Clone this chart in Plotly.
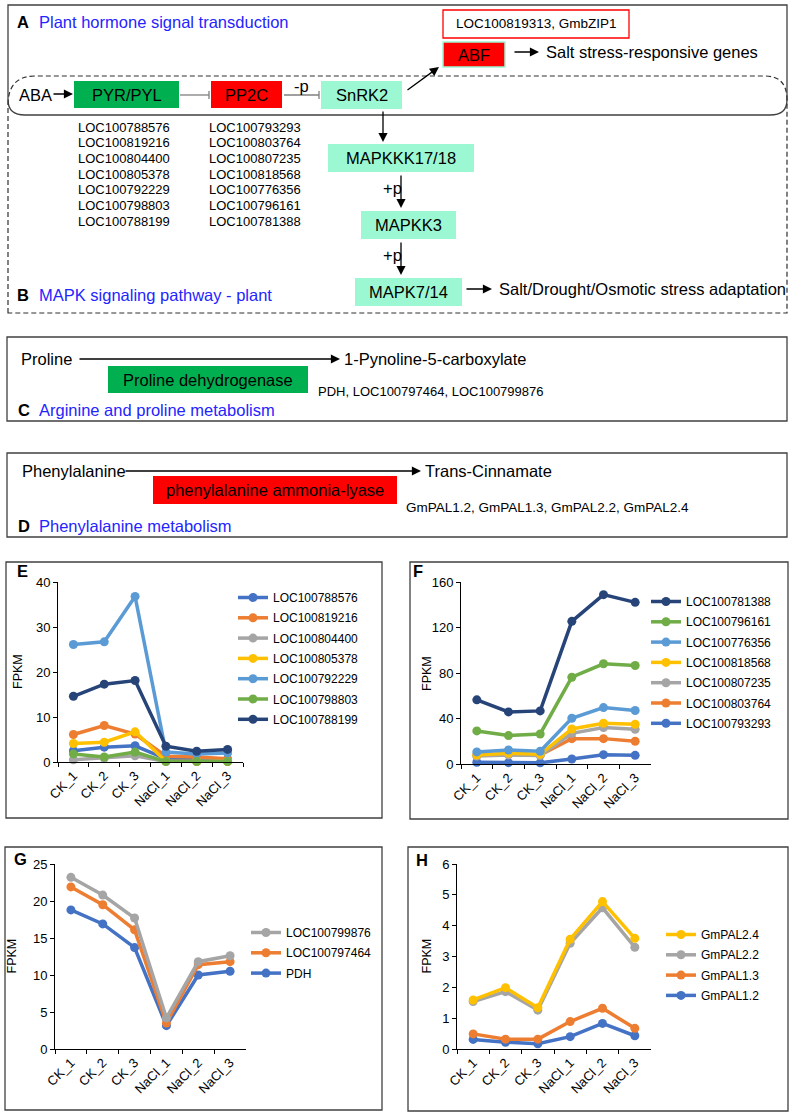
import plotly.graph_objects as go

W, H = 791, 1116
FONT = "Liberation Sans, Arial, sans-serif"
TITLE_BLUE = "#2424FF"
MINT = "#9CF8D2"
GREEN = "#00B050"
RED = "#FF0000"

# ---------------- data ----------------
categories = ["CK_1", "CK_2", "CK_3", "NaCl_1", "NaCl_2", "NaCl_3"]

pyr_genes = ["LOC100788576", "LOC100819216", "LOC100804400", "LOC100805378",
             "LOC100792229", "LOC100798803", "LOC100788199"]
pp2c_genes = ["LOC100793293", "LOC100803764", "LOC100807235", "LOC100818568",
              "LOC100776356", "LOC100796161", "LOC100781388"]

# Panel E (PYR/PYL)
e_names = ["LOC100788576", "LOC100819216", "LOC100804400", "LOC100805378",
           "LOC100792229", "LOC100798803", "LOC100788199"]
e_LOC100788576 = [2.5, 3.3, 3.6, 0.7, 0.6, 0.5]
e_LOC100819216 = [6.1, 8.1, 6.2, 1.3, 1.1, 0.7]
e_LOC100804400 = [0.5, 0.9, 1.4, 0.1, 0.1, 0.1]
e_LOC100805378 = [4.1, 4.4, 6.7, 0.15, 0.1, 0.1]
e_LOC100792229 = [26.1, 26.7, 36.8, 2.2, 1.8, 2.0]
e_LOC100798803 = [1.8, 1.1, 2.2, 0.1, 0.1, 0.1]
e_LOC100788199 = [14.6, 17.3, 18.1, 3.5, 2.4, 2.8]
e_values = [e_LOC100788576, e_LOC100819216, e_LOC100804400, e_LOC100805378,
            e_LOC100792229, e_LOC100798803, e_LOC100788199]
e_colors = ["#4472C4", "#ED7D31", "#A5A5A5", "#FFC000", "#5B9BD5", "#70AD47", "#264478"]

# Panel F (PP2C)
f_names = ["LOC100793293", "LOC100803764", "LOC100807235", "LOC100818568",
           "LOC100776356", "LOC100796161", "LOC100781388"]
f_LOC100793293 = [1.5, 1.2, 1.0, 4.4, 8.2, 7.6]
f_LOC100803764 = [7.5, 8.5, 8.0, 22.3, 22.3, 20.0]
f_LOC100807235 = [7.0, 8.0, 7.5, 27.0, 32.0, 30.5]
f_LOC100818568 = [7.9, 9.4, 8.5, 30.8, 35.8, 34.9]
f_LOC100776356 = [10.6, 12.3, 11.2, 40.2, 49.6, 47.0]
f_LOC100796161 = [29.1, 25.0, 26.4, 76.3, 88.1, 86.6]
f_LOC100781388 = [56.4, 45.8, 46.7, 125.4, 148.9, 142.1]
f_values = [f_LOC100793293, f_LOC100803764, f_LOC100807235, f_LOC100818568,
            f_LOC100776356, f_LOC100796161, f_LOC100781388]
f_colors = ["#4472C4", "#ED7D31", "#A5A5A5", "#FFC000", "#5B9BD5", "#70AD47", "#264478"]

# Panel G (proline dehydrogenase)
g_names = ["PDH", "LOC100797464", "LOC100799876"]
g_PDH = [18.8, 16.9, 13.7, 3.15, 10.0, 10.5]
g_LOC100797464 = [21.9, 19.5, 16.1, 3.5, 11.4, 11.8]
g_LOC100799876 = [23.2, 20.8, 17.7, 4.2, 11.8, 12.6]
g_values = [g_PDH, g_LOC100797464, g_LOC100799876]
g_colors = ["#4472C4", "#ED7D31", "#A5A5A5"]

# Panel H (PAL)
h_names = ["GmPAL1.2", "GmPAL1.3", "GmPAL2.2", "GmPAL2.4"]
h_GmPAL1_2 = [0.31, 0.22, 0.17, 0.40, 0.83, 0.43]
h_GmPAL1_3 = [0.49, 0.32, 0.32, 0.89, 1.32, 0.67]
h_GmPAL2_2 = [1.54, 1.86, 1.26, 3.43, 4.58, 3.30]
h_GmPAL2_4 = [1.59, 1.99, 1.34, 3.56, 4.78, 3.59]
h_values = [h_GmPAL1_2, h_GmPAL1_3, h_GmPAL2_2, h_GmPAL2_4]
h_colors = ["#4472C4", "#ED7D31", "#A5A5A5", "#FFC000"]


# ---------------- helpers (pixel -> paper) ----------------
def X(p):
    return p / W


def Y(p):
    return 1 - p / H


shapes = []
annotations = []
BIG = 16.5


def rect(x0, y0, x1, y1, fill=None, line_color=None, lw=1.0):
    shapes.append(dict(type="rect", xref="paper", yref="paper",
                       x0=X(x0), x1=X(x1), y0=Y(y1), y1=Y(y0),
                       fillcolor=fill if fill else "rgba(0,0,0,0)",
                       line=dict(color=line_color if line_color else "rgba(0,0,0,0)",
                                 width=lw if line_color else 0)))


def seg(x0, y0, x1, y1, color="black", width=1.2, dash=None):
    d = dict(type="line", xref="paper", yref="paper",
             x0=X(x0), x1=X(x1), y0=Y(y0), y1=Y(y1),
             line=dict(color=color, width=width))
    if dash:
        d["line"]["dash"] = dash
    shapes.append(d)


def path(cmds, color="black", width=1.2, dash=None):
    out = []
    for c in cmds:
        if c[0] in ("M", "L"):
            out.append(f"{c[0]} {X(c[1]):.5f},{Y(c[2]):.5f}")
        elif c[0] == "Q":
            out.append(f"Q {X(c[1]):.5f},{Y(c[2]):.5f} {X(c[3]):.5f},{Y(c[4]):.5f}")
        elif c[0] == "Z":
            out.append("Z")
    d = dict(type="path", xref="paper", yref="paper", path=" ".join(out),
             line=dict(color=color, width=width))
    if dash:
        d["line"]["dash"] = dash
    shapes.append(d)


def text(x, y, s, size=BIG, color="black", anchor="left", bold=False, angle=0):
    if bold:
        s = f"<b>{s}</b>"
    annotations.append(dict(xref="paper", yref="paper", x=X(x), y=Y(y), text=s,
                            showarrow=False, xanchor=anchor, yanchor="middle",
                            textangle=angle,
                            font=dict(size=size, color=color, family=FONT)))


def arrow(x0, y0, x1, y1, width=1.3):
    annotations.append(dict(xref="paper", yref="paper", x=X(x1), y=Y(y1),
                            ax=x0 - x1, ay=y0 - y1, text="", showarrow=True,
                            arrowhead=2, arrowsize=1.4, arrowwidth=width,
                            arrowcolor="black", standoff=0, startstandoff=0))


# ---------------- Panel A / B diagram ----------------
path([("M", 8, 5), ("L", 787, 5), ("L", 787, 100), ("Q", 787, 115, 770, 115),
      ("L", 25, 115), ("Q", 8, 115, 8, 100), ("Z",)], color="#404040", width=1.3)
path([("M", 8, 313), ("L", 8, 105), ("Q", 8, 76, 35, 76), ("L", 765, 76),
      ("Q", 787, 76, 787, 100), ("L", 787, 313), ("Z",)],
     color="#303030", width=1.2, dash="5px,3px")

text(15, 22, "A", bold=True)
text(37, 22, "Plant hormone signal transduction", color=TITLE_BLUE)

text(17, 95, "ABA")
arrow(52, 94, 73, 94)

rect(74, 81, 179, 108, fill=GREEN)
text(126.5, 95, "PYR/PYL", anchor="center")
seg(180, 95, 209, 95, color="#7F7F7F", width=1.3)
seg(209, 91, 209, 99, color="#7F7F7F", width=1.3)

rect(211, 81, 282, 108, fill=RED)
text(246.5, 95, "PP2C", anchor="center")
text(301, 86, "-p", anchor="center")
seg(284, 95, 319, 95, color="#7F7F7F", width=1.3)
seg(319, 91, 319, 99, color="#7F7F7F", width=1.3)

rect(321, 81, 402, 109, fill=MINT)
text(361.5, 95, "SnRK2", anchor="center")

arrow(406, 91, 439, 67)
rect(443, 42, 505, 67, fill=RED, line_color=MINT, lw=1.5)
text(474, 54.5, "ABF", anchor="center")
rect(443, 10, 629, 38, line_color=RED, lw=1.3)
text(536, 24, "LOC100819313, GmbZIP1", size=13.5, anchor="center")
arrow(513, 52, 539, 52)
text(544, 52, "Salt stress-responsive genes")

for i, g in enumerate(pyr_genes):
    text(76, 127 + i * 15.67, g, size=13)
for i, g in enumerate(pp2c_genes):
    text(207, 127 + i * 15.67, g, size=13)

arrow(383, 110, 383, 142)
rect(328, 144, 474, 172, fill=MINT)
text(401, 158, "MAPKKK17/18", anchor="center")
arrow(401, 174, 401, 208)
text(392, 188, "+p", anchor="center")
rect(361, 211, 456, 239, fill=MINT)
text(408.5, 225, "MAPKK3", anchor="center")
arrow(401, 241, 401, 275)
text(392, 255, "+p", anchor="center")
rect(355, 278, 462, 306, fill=MINT)
text(408.5, 292, "MAPK7/14", anchor="center")
arrow(465, 289, 492, 289)
text(497, 289, "Salt/Drought/Osmotic stress adaptation")

text(15, 295, "B", bold=True)
text(37, 295, "MAPK signaling pathway - plant", color=TITLE_BLUE)

# ---------------- Panel C ----------------
rect(7, 337, 787, 421, line_color="#404040", lw=1.3)
text(19, 359, "Proline")
arrow(78, 359, 340, 359)
text(342, 359, "1-Pynoline-5-carboxylate")
rect(108, 366, 308, 393, fill=GREEN)
text(208, 380, "Proline dehydrogenase", anchor="center")
text(316, 391, "PDH, LOC100797464, LOC100799876", size=13)
text(16, 410, "C", bold=True)
text(37, 410, "Arginine and proline metabolism", color=TITLE_BLUE)

# ---------------- Panel D ----------------
rect(7, 453, 787, 537, line_color="#404040", lw=1.3)
text(20, 471, "Phenylalanine")
arrow(124, 471, 421, 471)
text(423, 471, "Trans-Cinnamate")
rect(153, 476, 397, 504, fill=RED)
text(275, 490, "phenylalanine ammonia-lyase", anchor="center")
text(404, 507, "GmPAL1.2, GmPAL1.3, GmPAL2.2, GmPAL2.4", size=13.5)
text(16, 526, "D", bold=True)
text(37, 526, "Phenylalanine metabolism", color=TITLE_BLUE)

# ---------------- chart panels ----------------
rect(6, 562, 382, 818, line_color="#404040", lw=1.3)
rect(410, 562, 788, 819, line_color="#404040", lw=1.3)
rect(5, 847, 382, 1110, line_color="#404040", lw=1.3)
rect(408, 847, 788, 1111, line_color="#404040", lw=1.3)
text(15, 571, "E", bold=True)
text(411, 571, "F", bold=True)
text(12, 859, "G", bold=True)
text(414, 860, "H", bold=True)

panels = [
    # suffix, names, values, colors, x0, x1, ytop, ybot, ymax, dtick,
    # legend text x, first legend y, legend reversed?, y-title x
    ("", e_names, e_values, e_colors, 58, 243, 582, 762, 40, 10, 275, 598, False, 18),
    ("2", f_names, f_values, f_colors, 461, 651, 582, 764, 160, 40, 688, 602, True, 427),
    ("3", g_names, g_values, g_colors, 55, 246, 864, 1049, 25, 5, 288, 933, True, 11),
    ("4", h_names, h_values, h_colors, 457, 651, 864, 1049, 6, 1, 703, 935, True, 426),
]

fig = go.Figure()
layout = dict(width=W, height=H, margin=dict(l=0, r=0, t=0, b=0, autoexpand=False),
              paper_bgcolor="white", plot_bgcolor="rgba(0,0,0,0)",
              font=dict(family=FONT, color="black"), showlegend=True,
              hovermode=False)

for suf, names, values, colors, x0, x1, yt, yb, ymax, dt, ltx, lfy, rev, tx in panels:
    legname = "legend" + suf
    k = len(names)
    for i, (n, v, c) in enumerate(zip(names, values, colors)):
        rank = (k - i) * 10 if rev else (i + 1) * 10
        fig.add_trace(go.Scatter(x=categories, y=v, name=n, mode="lines+markers",
                                 line=dict(color=c, width=3.5),
                                 marker=dict(color=c, size=9),
                                 xaxis="x" + suf, yaxis="y" + suf,
                                 legend=legname, legendgroup=f"g{suf}_{n}",
                                 legendrank=rank, cliponaxis=False))
    layout["xaxis" + suf] = dict(
        domain=[X(x0), X(x1)], anchor="y" + suf, type="category",
        categoryorder="array", categoryarray=categories, range=[-0.5, 5.5],
        showline=True, linecolor="black", linewidth=1, ticks="outside",
        tickson="boundaries", ticklen=4, tickcolor="black", tickangle=-45,
        tickfont=dict(size=13, family=FONT, color="black"), automargin=False,
        showgrid=False, zeroline=False, fixedrange=True)
    layout["yaxis" + suf] = dict(
        domain=[Y(yb), Y(yt)], anchor="x" + suf, range=[0, ymax], dtick=dt,
        showline=True, linecolor="black", linewidth=1, ticks="outside",
        ticklen=4, tickcolor="black", automargin=False,
        tickfont=dict(size=13, family=FONT, color="black"),
        showgrid=False, zeroline=False, fixedrange=True)
    text(tx, (yt + yb) / 2, "FPKM", size=12.5, anchor="center", angle=-90)
    layout[legname] = dict(x=X(ltx - 42), y=Y(lfy - 15), xanchor="left", yanchor="top",
                           bgcolor="rgba(0,0,0,0)", traceorder="grouped",
                           font=dict(size=12, family=FONT, color="black"),
                           itemwidth=30, tracegroupgap=1.3)

layout["shapes"] = shapes
layout["annotations"] = annotations
fig.update_layout(**layout)
fig.write_html("out.html",
               config={"displayModeBar": False, "responsive": False},
               post_script="document.body.style.margin='0';"
                           "document.body.style.padding='0';"
                           "document.documentElement.style.overflow='hidden';"
                           "document.body.style.overflow='hidden';"
                           "var d=document.getElementById('{plot_id}');"
                           "d.style.position='fixed';d.style.left='0px';d.style.top='0px';")
